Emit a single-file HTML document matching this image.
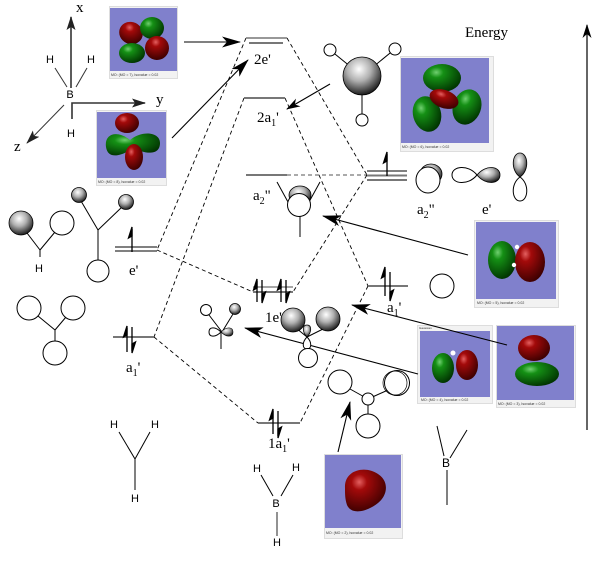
<!DOCTYPE html>
<html><head><meta charset="utf-8">
<style>
html,body{margin:0;padding:0;background:#fff;}
svg{display:block;}
.serif{font-family:"Liberation Serif",serif;}
.sans{font-family:"Liberation Sans",sans-serif;}
</style></head>
<body>
<svg width="611" height="561" viewBox="0 0 611 561" xmlns="http://www.w3.org/2000/svg">
<defs>
 <radialGradient id="sph" cx="0.42" cy="0.32" r="0.7">
  <stop offset="0" stop-color="#ffffff"/>
  <stop offset="0.45" stop-color="#b0b0b0"/>
  <stop offset="1" stop-color="#151515"/>
 </radialGradient>
 <radialGradient id="red" cx="0.35" cy="0.3" r="0.75">
  <stop offset="0" stop-color="#e46060"/>
  <stop offset="0.25" stop-color="#a30a0a"/>
  <stop offset="1" stop-color="#3a0000"/>
 </radialGradient>
 <radialGradient id="grn" cx="0.35" cy="0.3" r="0.75">
  <stop offset="0" stop-color="#70d070"/>
  <stop offset="0.25" stop-color="#159015"/>
  <stop offset="1" stop-color="#003000"/>
 </radialGradient>
 <marker id="big" markerUnits="userSpaceOnUse" markerWidth="19" markerHeight="11" refX="18" refY="5.5" orient="auto">
  <path d="M0,0 L19,5.5 L0,11 L5,5.5 Z" fill="#000"/>
 </marker>
 <marker id="med" markerUnits="userSpaceOnUse" markerWidth="14" markerHeight="9" refX="13" refY="4.5" orient="auto">
  <path d="M0,0 L14,4.5 L0,9 L4,4.5 Z" fill="#000"/>
 </marker>
 <marker id="ax" markerUnits="userSpaceOnUse" markerWidth="14" markerHeight="9" refX="13" refY="4.5" orient="auto">
  <path d="M0,0 L14,4.5 L0,9 L3,4.5 Z" fill="#222"/>
 </marker>
</defs>

<!-- ===== Axes (top-left) ===== -->
<g stroke="#333" stroke-width="1.6" fill="none">
 <line x1="71" y1="88" x2="71" y2="17" marker-end="url(#ax)"/>
 <polyline points="72,119 72,103 145,103" marker-end="url(#ax)"/>
 <line x1="64" y1="105" x2="27" y2="143" stroke-width="1" marker-end="url(#ax)"/>
 <line x1="55" y1="68" x2="67" y2="87" stroke-width="1"/>
 <line x1="87" y1="68" x2="76" y2="87" stroke-width="1"/>
</g>
<text x="76" y="12" class="serif" font-size="15">x</text>
<text x="156" y="104" class="serif" font-size="15">y</text>
<text x="14" y="151" class="serif" font-size="15">z</text>
<g class="sans" font-size="11" text-anchor="middle">
 <text x="50" y="63">H</text>
 <text x="91" y="63">H</text>
 <text x="70" y="98">B</text>
 <text x="71" y="137">H</text>
</g>

<!-- ===== MO images ===== -->
<rect x="109.5" y="6.5" width="68" height="72" fill="#f2f2f2" stroke="#ddd"/>
<rect x="110" y="8" width="67" height="63" fill="#8080cc"/>
<text x="111" y="76" class="sans" font-size="3.5" fill="#333">MO: (MO = 7), Isovalue = 0.02</text>
<ellipse cx="131" cy="33" rx="12" ry="11" fill="url(#red)" transform="rotate(25 131 33)"/>
<ellipse cx="152" cy="28" rx="12" ry="11" fill="url(#grn)"/>
<ellipse cx="132" cy="53" rx="13" ry="10" fill="url(#grn)"/>
<ellipse cx="157" cy="48" rx="12" ry="12" fill="url(#red)" transform="rotate(25 157 48)"/>

<rect x="96.5" y="110.5" width="70" height="75" fill="#f2f2f2" stroke="#ddd"/>
<rect x="97" y="112" width="69" height="66" fill="#8080cc"/>
<text x="98" y="183" class="sans" font-size="3.5" fill="#333">MO: (MO = 8), Isovalue = 0.02</text>
<path d="M106,147 C104,133 118,130 130,140 C142,130 160,132 160,143 C160,156 145,154 133,148 C122,156 108,160 106,147 Z" fill="url(#grn)"/>
<ellipse cx="127" cy="123" rx="12" ry="10" fill="url(#red)"/>
<ellipse cx="134" cy="157" rx="9" ry="13" fill="url(#red)"/>

<rect x="400.5" y="56.5" width="93" height="95" fill="#f2f2f2" stroke="#ddd"/>
<rect x="401" y="58" width="88" height="85" fill="#8080cc"/>
<text x="402" y="148" class="sans" font-size="3.5" fill="#333">MO: (MO = 6), Isovalue = 0.02</text>
<ellipse cx="442" cy="78" rx="19" ry="14" fill="url(#grn)"/>
<ellipse cx="427" cy="114" rx="14" ry="18" fill="url(#grn)" transform="rotate(-15 427 114)"/>
<ellipse cx="467" cy="107" rx="14" ry="18" fill="url(#grn)" transform="rotate(20 467 107)"/>
<ellipse cx="444" cy="99" rx="15" ry="9" fill="url(#red)" transform="rotate(20 444 99)"/>

<rect x="474.5" y="220.5" width="84" height="87" fill="#f2f2f2" stroke="#ddd"/>
<rect x="476" y="222" width="80" height="77" fill="#8080cc"/>
<text x="477" y="304" class="sans" font-size="3.5" fill="#333">MO: (MO = 5), Isovalue = 0.02</text>
<ellipse cx="502" cy="260" rx="14" ry="19" fill="url(#grn)"/>
<ellipse cx="530" cy="262" rx="15" ry="20" fill="url(#red)"/>
<circle cx="517" cy="247" r="2.2" fill="#fff"/>
<circle cx="514" cy="265" r="2.2" fill="#fff"/>

<rect x="417.5" y="325.5" width="75" height="78" fill="#f2f2f2" stroke="#ddd"/>
<rect x="420" y="331" width="70" height="66" fill="#8080cc"/>
<text x="419" y="329" class="sans" font-size="3" fill="#333">Gaussian</text>
<text x="421" y="401" class="sans" font-size="3.5" fill="#333">MO: (MO = 4), Isovalue = 0.02</text>
<ellipse cx="443" cy="368" rx="11" ry="15" fill="url(#grn)"/>
<ellipse cx="467" cy="365" rx="11" ry="15" fill="url(#red)"/>
<circle cx="453" cy="353" r="2.5" fill="#fff"/>

<rect x="496.5" y="325.5" width="79" height="82" fill="#f2f2f2" stroke="#ddd"/>
<rect x="497" y="326" width="77" height="74" fill="#8080cc"/>
<text x="498" y="405" class="sans" font-size="3.5" fill="#333">MO: (MO = 3), Isovalue = 0.02</text>
<ellipse cx="537" cy="374" rx="22" ry="12" fill="url(#grn)"/>
<ellipse cx="534" cy="348" rx="16" ry="13" fill="url(#red)"/>

<rect x="324.5" y="454.5" width="78" height="84" fill="#f2f2f2" stroke="#ddd"/>
<rect x="325" y="455" width="76" height="73" fill="#8080cc"/>
<text x="326" y="534" class="sans" font-size="3.5" fill="#333">MO: (MO = 2), Isovalue = 0.02</text>
<path d="M345,488 C344,470 365,465 378,474 C390,482 387,496 378,503 C368,511 352,516 347,505 C345,499 345,494 345,488 Z" fill="url(#red)"/>

<!-- ===== Energy ===== -->
<text x="465" y="37" class="serif" font-size="15">Energy</text>
<line x1="587" y1="430" x2="587" y2="25" stroke="#000" stroke-width="1.2" marker-end="url(#med)"/>

<!-- ===== BH3 top picture ===== -->
<g stroke="#000" stroke-width="1" fill="none">
 <line x1="330" y1="50" x2="362" y2="76"/>
 <line x1="395" y1="49" x2="362" y2="76"/>
 <line x1="362" y1="76" x2="362" y2="120"/>
</g>
<circle cx="362" cy="76" r="19" fill="url(#sph)" stroke="#000" stroke-width="0.8"/>
<circle cx="330" cy="50" r="6" fill="#fff" stroke="#000"/>
<circle cx="395" cy="49" r="6" fill="#fff" stroke="#000"/>
<circle cx="362" cy="120" r="6" fill="#fff" stroke="#000"/>

<!-- ===== Dashed correlation lines ===== -->
<g stroke="#000" stroke-width="0.9" stroke-dasharray="4,3" fill="none">
 <line x1="246" y1="38" x2="157" y2="250"/>
 <line x1="287" y1="38" x2="367" y2="175"/>
 <line x1="244" y1="98" x2="154" y2="337"/>
 <line x1="285" y1="98" x2="368" y2="286"/>
 <line x1="287" y1="175" x2="367" y2="175" stroke="#555"/>
 <line x1="157" y1="250" x2="253" y2="292"/>
 <line x1="154" y1="337" x2="258" y2="423"/>
 <line x1="367" y1="175" x2="293" y2="292"/>
 <line x1="368" y1="286" x2="300" y2="423"/>
</g>

<!-- ===== Energy levels ===== -->
<g stroke="#777" stroke-width="2">
 <line x1="246" y1="38" x2="287" y2="38" stroke-width="1.5"/>
 <line x1="249" y1="43" x2="283" y2="43"/>
 <line x1="244" y1="98" x2="285" y2="98"/>
 <line x1="246" y1="175" x2="287" y2="175"/>
 <line x1="367" y1="175.5" x2="407" y2="175.5"/>
 <line x1="367" y1="180" x2="407" y2="180"/>
 <line x1="113" y1="337" x2="154" y2="337"/>
 <line x1="253" y1="287" x2="293" y2="287" stroke="#888" stroke-width="1.5"/>
 <line x1="253" y1="292" x2="293" y2="292"/>
 <line x1="368" y1="286" x2="408" y2="286"/>
 <line x1="258" y1="423" x2="300" y2="423"/>
</g>
<g stroke="#000" stroke-width="1">
 <line x1="367" y1="171" x2="407" y2="171"/>
 <line x1="115" y1="247" x2="157" y2="247"/>
 <line x1="115" y1="251" x2="157" y2="251"/>
</g>

<!-- ===== Electron half-arrows ===== -->
<g stroke="#000" stroke-width="1.3" fill="#000">
 <line x1="387" y1="176" x2="387" y2="154"/><polygon points="387,152 383.5,163 387,161"/>
 <line x1="132" y1="252" x2="132" y2="229"/><polygon points="132,227 128.5,238 132,236"/>
 <line x1="127" y1="352" x2="127" y2="328"/><polygon points="127,326 123.5,337 127,335"/>
 <line x1="132" y1="327" x2="132" y2="351"/><polygon points="132,353 135.5,342 132,344"/>
 <line x1="257" y1="302" x2="257" y2="281"/><polygon points="257,279 253.5,290 257,288"/>
 <line x1="262" y1="280" x2="262" y2="301"/><polygon points="262,303 265.5,292 262,294"/>
 <line x1="281" y1="302" x2="281" y2="281"/><polygon points="281,279 277.5,290 281,288"/>
 <line x1="286" y1="280" x2="286" y2="301"/><polygon points="286,303 289.5,292 286,294"/>
 <line x1="385" y1="296" x2="385" y2="269"/><polygon points="385,267 381.5,278 385,276"/>
 <line x1="390" y1="272" x2="390" y2="299"/><polygon points="390,301 393.5,290 390,292"/>
 <line x1="273" y1="434" x2="273" y2="411"/><polygon points="273,409 269.5,420 273,418"/>
 <line x1="278" y1="411" x2="278" y2="436"/><polygon points="278,438 281.5,427 278,429"/>
</g>

<!-- ===== Solid arrows ===== -->
<g stroke="#000" stroke-width="1.1" fill="none">
 <line x1="184" y1="42" x2="240" y2="42" marker-end="url(#big)"/>
 <line x1="172" y1="138" x2="248" y2="60" marker-end="url(#big)"/>
 <line x1="330" y1="84" x2="287" y2="109" marker-end="url(#med)"/>
 <line x1="468" y1="255" x2="323" y2="216" marker-end="url(#big)"/>
 <line x1="507" y1="345" x2="352" y2="305" marker-end="url(#big)"/>
 <line x1="418" y1="374" x2="245" y2="328" marker-end="url(#big)"/>
 <line x1="338" y1="452" x2="350" y2="402" marker-end="url(#big)"/>
</g>

<!-- ===== Level labels ===== -->
<g class="serif" font-size="15" fill="#000">
 <text x="254" y="64">2e'</text>
 <text x="257" y="122">2a<tspan font-size="10" dy="4">1</tspan><tspan dy="-4">'</tspan></text>
 <text x="253" y="200">a<tspan font-size="10" dy="4">2</tspan><tspan dy="-4">"</tspan></text>
 <text x="417" y="214">a<tspan font-size="10" dy="4">2</tspan><tspan dy="-4">"</tspan></text>
 <text x="482" y="214">e'</text>
 <text x="129" y="275">e'</text>
 <text x="265" y="322">1e'</text>
 <text x="387" y="312">a<tspan font-size="10" dy="4">1</tspan><tspan dy="-4">'</tspan></text>
 <text x="126" y="372">a<tspan font-size="10" dy="4">1</tspan><tspan dy="-4">'</tspan></text>
 <text x="268" y="448">1a<tspan font-size="10" dy="4">1</tspan><tspan dy="-4">'</tspan></text>
</g>

<!-- ===== Orbital pictures ===== -->
<g stroke="#000" stroke-width="1" fill="none">
 <line x1="277" y1="182" x2="288" y2="202"/>
 <line x1="320" y1="182" x2="309" y2="202"/>
 <line x1="300" y1="216" x2="300" y2="237"/>
</g>
<ellipse cx="300" cy="195" rx="11" ry="9" fill="url(#sph)" stroke="#000" stroke-width="0.8"/>
<circle cx="299" cy="205" r="11.5" fill="#fff" stroke="#000"/>

<ellipse cx="431" cy="174" rx="11" ry="10" fill="url(#sph)" stroke="#000" stroke-width="0.8"/>
<ellipse cx="428" cy="180" rx="12" ry="13" fill="#fff" stroke="#000"/>
<path d="M477,175 C468,164 452,166 452,175 C452,184 468,186 477,175 Z" fill="#fff" stroke="#000"/>
<path d="M477,175 C486,164 500,166 500,175 C500,184 486,186 477,175 Z" fill="url(#sph)" stroke="#000" stroke-width="0.8"/>
<path d="M520,177 C510,170 512,153 520,153 C528,153 530,170 520,177 Z" fill="url(#sph)" stroke="#000" stroke-width="0.8"/>
<path d="M520,177 C510,184 512,201 520,201 C528,201 530,184 520,177 Z" fill="#fff" stroke="#000"/>

<circle cx="442" cy="286" r="12" fill="#fff" stroke="#000"/>

<g stroke="#000" stroke-width="1">
 <line x1="27" y1="233" x2="40" y2="250"/>
 <line x1="55" y1="232" x2="40" y2="250"/>
 <line x1="40" y1="250" x2="40" y2="257"/>
</g>
<circle cx="21" cy="223" r="12" fill="url(#sph)" stroke="#000" stroke-width="0.8"/>
<circle cx="62" cy="223" r="12" fill="#fff" stroke="#000"/>
<text x="39" y="272" class="sans" font-size="11" text-anchor="middle">H</text>

<g stroke="#000" stroke-width="1">
 <line x1="81" y1="201" x2="98" y2="230"/>
 <line x1="122" y1="207" x2="98" y2="230"/>
 <line x1="98" y1="230" x2="98" y2="260"/>
</g>
<circle cx="79" cy="195" r="7.5" fill="url(#sph)" stroke="#000" stroke-width="0.8"/>
<circle cx="126" cy="202" r="7.5" fill="url(#sph)" stroke="#000" stroke-width="0.8"/>
<circle cx="98" cy="271" r="11" fill="#fff" stroke="#000"/>

<g stroke="#000" stroke-width="1">
 <line x1="38" y1="316" x2="55" y2="330"/>
 <line x1="66" y1="317" x2="55" y2="330"/>
 <line x1="55" y1="330" x2="55" y2="342"/>
</g>
<circle cx="29" cy="308" r="12" fill="#fff" stroke="#000"/>
<circle cx="73" cy="308" r="12" fill="#fff" stroke="#000"/>
<circle cx="55" cy="353" r="12" fill="#fff" stroke="#000"/>

<g stroke="#000" stroke-width="1">
 <line x1="209" y1="315" x2="222" y2="332"/>
 <line x1="233" y1="314" x2="222" y2="332"/>
 <line x1="221" y1="332" x2="221" y2="349"/>
</g>
<circle cx="206" cy="310" r="5.5" fill="#fff" stroke="#000"/>
<circle cx="235" cy="309" r="5.5" fill="url(#sph)" stroke="#000" stroke-width="0.8"/>
<path d="M221,332 C215,326 209,327 209,332 C209,337 215,338 221,332 Z" fill="#fff" stroke="#000"/>
<path d="M221,332 C227,326 233,327 233,332 C233,337 227,338 221,332 Z" fill="url(#sph)" stroke="#000" stroke-width="0.6"/>

<g stroke="#000" stroke-width="1">
 <line x1="296" y1="328" x2="307" y2="337"/>
 <line x1="325" y1="328" x2="307" y2="337"/>
 <line x1="307" y1="337" x2="307" y2="348"/>
</g>
<path d="M307,337 C302,332 302,325 307,325 C312,325 312,332 307,337 Z" fill="url(#sph)" stroke="#000" stroke-width="0.7"/>
<path d="M307,337 C302,342 302,349 307,349 C312,349 312,342 307,337 Z" fill="#fff" stroke="#000"/>
<circle cx="293" cy="320" r="12" fill="url(#sph)" stroke="#000" stroke-width="0.8"/>
<circle cx="328" cy="319" r="12" fill="url(#sph)" stroke="#000" stroke-width="0.8"/>
<circle cx="308" cy="358" r="9.5" fill="#fff" stroke="#000"/>

<g stroke="#000" stroke-width="1">
 <line x1="350" y1="389" x2="368" y2="399"/>
 <line x1="388" y1="390" x2="368" y2="399"/>
 <line x1="368" y1="399" x2="368" y2="414"/>
</g>
<circle cx="340" cy="382" r="12" fill="#fff" stroke="#000"/>
<circle cx="397" cy="383" r="12.5" fill="#fff" stroke="#000"/>
<circle cx="395" cy="383" r="12" fill="none" stroke="#000" stroke-width="0.7"/>
<circle cx="368" cy="399" r="6" fill="#fff" stroke="#000"/>
<circle cx="368" cy="426" r="12" fill="#fff" stroke="#000"/>

<!-- ===== Bottom structures ===== -->
<g stroke="#000" stroke-width="1">
 <line x1="119" y1="432" x2="135" y2="459"/>
 <line x1="150" y1="432" x2="135" y2="459"/>
 <line x1="135" y1="459" x2="135" y2="490"/>
</g>
<g class="sans" font-size="11" text-anchor="middle">
 <text x="114" y="428">H</text>
 <text x="155" y="428">H</text>
 <text x="135" y="502">H</text>
</g>
<g stroke="#000" stroke-width="1">
 <line x1="261" y1="475" x2="273" y2="496"/>
 <line x1="293" y1="475" x2="281" y2="496"/>
</g>
<line x1="277" y1="512" x2="277" y2="536" stroke="#777" stroke-width="1.6"/>
<g class="sans" font-size="11" text-anchor="middle">
 <text x="257" y="472">H</text>
 <text x="296" y="471">H</text>
 <text x="276" y="507">B</text>
 <text x="277" y="546">H</text>
</g>
<g stroke="#000" stroke-width="1">
 <line x1="437" y1="426" x2="444" y2="456"/>
 <line x1="467" y1="430" x2="450" y2="458"/>
 <line x1="447" y1="470" x2="447" y2="505"/>
</g>
<text x="446" y="467" class="sans" font-size="12" text-anchor="middle">B</text>
</svg>
</body></html>
